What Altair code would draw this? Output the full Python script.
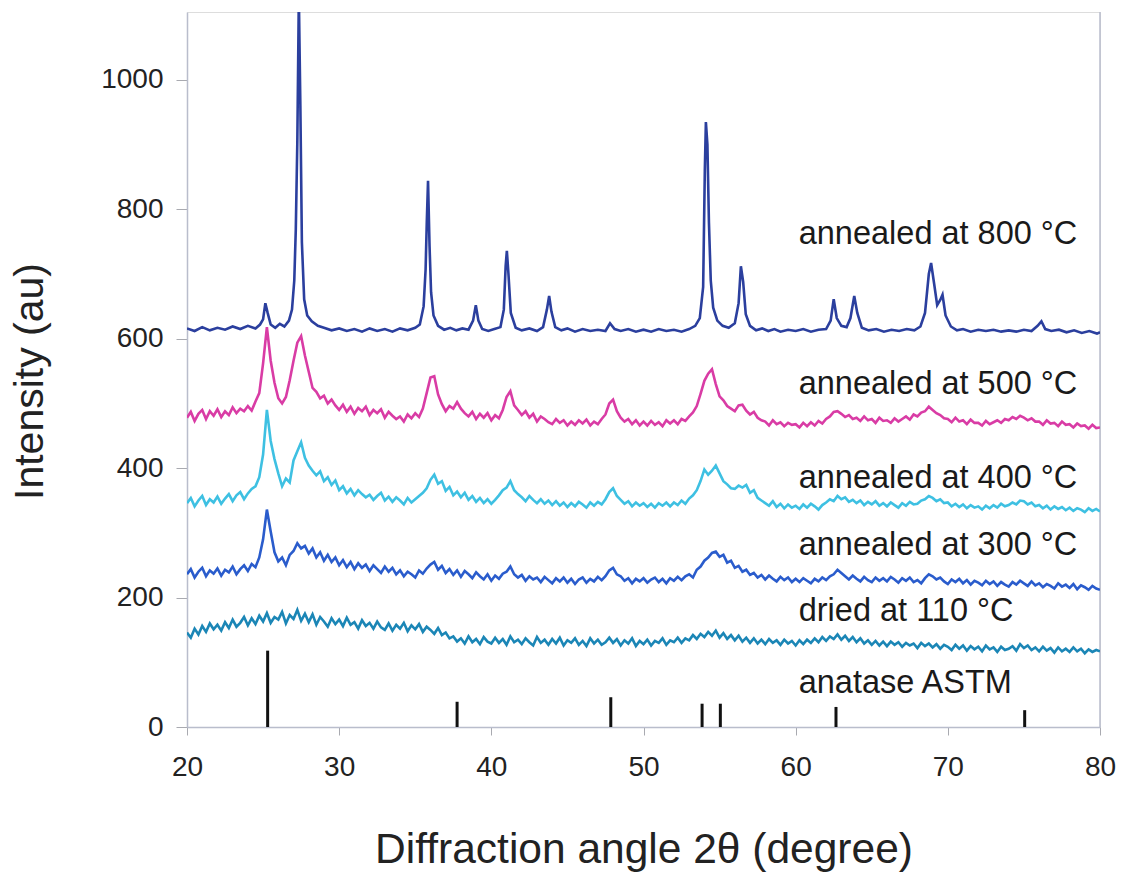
import altair as alt
import pandas as pd

# ---- sampling grid (2-theta, degrees) for the noisy patterns ----
X_GRID = [round(20 + 0.25 * i, 2) for i in range(241)]

# ---- dried at 110 C ----
Y110 = [
    146, 138, 152, 143, 156, 147, 160, 151,
    158, 149, 162, 153, 166, 155, 161, 170,
    157, 168, 159, 172, 163, 176, 161, 170,
    166, 178, 160, 173, 167, 181, 164, 175,
    162, 174, 158, 170, 163, 155, 168, 159,
    166, 156, 169, 158, 162, 152, 165, 156,
    161, 152, 163, 154, 150, 160, 149, 158,
    152, 161, 148, 157, 151, 159, 147, 155,
    150, 144, 153, 142, 146, 137, 140, 132,
    137, 129, 140, 131, 136, 128, 139, 132,
    129, 138, 130, 136, 127, 140, 131, 135,
    128, 137, 131, 126, 139, 130, 135, 127,
    136, 129, 138, 126, 134, 130, 137, 127,
    133, 125, 137, 129, 135, 127, 131, 138,
    130, 136, 126, 134, 129, 137, 125, 133,
    128, 135, 126, 133, 130, 137, 127, 134,
    131, 138, 130, 137, 134, 142, 136, 144,
    139, 147, 141, 149, 138, 145, 136, 142,
    134, 141, 132, 138, 130, 137, 129, 135,
    128, 136, 130, 134, 127, 135, 129, 133,
    126, 134, 128, 135, 130, 137, 131, 139,
    133, 140, 136, 143, 135, 141, 133, 139,
    131, 137, 129, 134, 127, 133, 126, 132,
    125, 132, 127, 131, 124, 130, 126, 129,
    122, 130, 125, 129, 123, 128, 121, 127,
    124, 119, 127, 121, 126, 118, 125, 120,
    124, 117, 126, 120, 123, 116, 124, 119,
    121, 125, 118, 128, 122, 126, 119, 123,
    117, 124, 118, 122, 115, 123, 117, 121,
    116, 123, 117, 121, 114, 120, 116, 119,
    117,
]

# ---- annealed at 300 C ----
Y300 = [
    236, 244, 231, 240, 246, 233, 242, 237,
    245, 234, 243, 239, 248, 236, 244, 250,
    241, 252, 247, 262, 290, 336, 302, 270,
    256, 262, 250, 266, 272, 284, 276, 280,
    268, 276, 262, 270, 257, 266, 255, 262,
    250, 258, 247, 255, 244, 253, 246, 251,
    241, 250, 244, 238, 248, 240, 246, 236,
    242, 233, 240, 236, 231, 242, 237, 245,
    251, 255, 243, 249, 238, 244, 235, 242,
    232, 241, 236, 230, 239, 233, 228, 236,
    226, 234, 229, 237, 240, 248, 236, 231,
    235, 226, 233, 228, 231, 224, 232, 227,
    222, 230, 225, 231, 223, 229, 221, 228,
    231, 223, 229, 225, 232, 227, 233, 242,
    246, 236, 233, 226, 230, 222, 229, 225,
    230, 223, 228, 231, 224, 229, 222, 230,
    226, 232, 227, 233, 236, 231, 243, 248,
    257, 262, 269, 271, 263, 266, 254, 257,
    246, 249, 240, 243, 235, 238, 231, 235,
    228, 234, 229, 225, 232, 227, 231, 224,
    229, 224, 230, 226, 222, 229, 225, 231,
    227, 233, 236, 243, 238, 233, 228, 234,
    229, 225, 232, 227, 224, 231, 226, 230,
    225, 232, 228, 223, 230, 226, 231, 224,
    227, 222, 230, 236, 233, 228, 231, 225,
    221, 228, 224, 229, 222, 227, 220, 226,
    223, 219, 226, 221, 225, 218, 224, 220,
    217, 224, 220, 226, 222, 218, 225, 219,
    222, 216, 221, 218, 214, 222, 217, 220,
    215, 221, 213, 219, 216, 212, 218, 214,
    212,
]

# ---- annealed at 400 C ----
Y400 = [
    346, 354, 341, 350, 357, 343, 352, 347,
    356, 345, 353, 360, 349, 358, 363, 352,
    361, 368, 372, 386, 421, 490, 442, 414,
    392, 372, 384, 378, 412, 426, 440, 416,
    404, 396, 389, 395, 380, 386, 374, 381,
    366, 372, 361, 368, 358, 366, 360, 355,
    359, 351, 357, 362, 350, 356, 348, 355,
    350, 344, 354, 347, 352, 357, 362, 369,
    382, 390, 376, 380, 365, 371, 358, 364,
    355, 362, 351, 357, 348, 354, 346, 352,
    345, 351, 358, 366, 370, 380, 366, 360,
    355, 349, 357, 351, 346, 352, 345, 350,
    343, 349, 342, 347, 340, 346, 341, 348,
    344, 339, 347, 342, 348, 344, 352, 363,
    369, 357, 351, 345, 349, 341, 347, 342,
    346, 340, 345, 339, 346, 342, 347, 341,
    347, 343, 350, 345, 353, 358, 366, 380,
    398, 390, 396, 404, 392, 380, 375, 369,
    368, 373, 370, 374, 362, 366, 354, 350,
    346, 342, 349, 340, 345, 338, 344, 339,
    342, 337, 344, 339, 345, 341, 336, 343,
    347, 352, 349, 357, 352, 355, 348, 351,
    346, 350, 343, 348, 344, 349, 342, 346,
    341, 347, 343, 339, 346, 342, 348, 344,
    345, 350, 352, 357, 354, 349, 352, 346,
    347, 341, 345, 340, 344, 338, 343, 339,
    341, 336, 342, 338, 343, 339, 345, 341,
    343, 347, 344, 350, 349, 344, 347, 341,
    343, 338, 342, 336, 341, 337, 340, 335,
    339, 334, 338, 336, 332, 338, 334, 337,
    333,
]

# ---- annealed at 500 C ----
Y500 = [
    478, 487, 473, 484, 490, 476, 488, 481,
    491, 479, 488, 482, 494, 485, 492, 488,
    496, 489, 503, 516, 562, 618, 566, 532,
    508, 500, 510, 536, 566, 594, 604, 574,
    549, 524, 518, 508, 512, 500, 506, 497,
    490, 498, 487, 495, 484, 493, 488, 495,
    482, 490, 485, 491, 478, 487, 481, 476,
    480, 472, 483, 477, 485, 479, 492, 516,
    540, 542, 514, 499, 488, 496, 492, 502,
    492, 485, 480, 487, 476, 484, 478, 485,
    474, 482, 477, 490, 510, 519, 497, 490,
    482, 488, 478, 484, 472, 480, 476, 471,
    468, 476, 470, 474, 466, 472, 467, 474,
    469, 475, 466, 472, 468, 476, 483, 500,
    506, 488, 478, 472, 476, 468, 474, 466,
    472, 466, 473, 467, 471, 465, 474, 469,
    474, 468, 476, 473, 480, 486, 496, 515,
    535, 546, 553, 530, 511, 505, 496, 492,
    488, 497, 498, 489, 483, 487, 478, 474,
    472, 466, 474, 468, 471, 465, 470, 467,
    468, 463, 470, 465, 471, 466, 473, 469,
    476, 480, 487, 488, 484, 479, 482, 476,
    478, 473, 480, 474, 476, 470, 478, 473,
    474, 470, 477, 472, 476, 480, 475, 483,
    480, 486, 488, 495, 490, 485, 482, 477,
    476, 471, 478, 472, 474, 468, 475, 470,
    470, 466, 473, 468, 471, 474, 470, 476,
    474, 479, 476, 481, 478, 474, 477, 472,
    472, 467, 474, 469, 470, 465, 472, 467,
    468, 463, 469, 465, 466, 461, 467, 462,
    463,
]

# ---- annealed at 800 C (sharp rutile peaks, own sampling) ----
X800 = [
    20.0, 20.5, 21.0, 21.5, 22.0, 22.5, 23.0, 23.5, 24.0, 24.5, 24.8, 25.0,
    25.15, 25.3, 25.5, 25.8, 26.1, 26.4, 26.7, 26.9, 27.05, 27.15, 27.25,
    27.35, 27.45, 27.55, 27.7, 27.9, 28.2, 28.6, 29.0, 29.5, 30.0, 30.5,
    31.0, 31.5, 32.0, 32.5, 33.0, 33.5, 34.0, 34.5, 35.0, 35.3, 35.55,
    35.68, 35.76, 35.84, 35.94, 36.04, 36.2, 36.5, 36.9, 37.3, 37.7, 38.1,
    38.5, 38.8, 38.98, 39.15, 39.4, 39.8, 40.2, 40.6, 40.82, 40.94, 41.02,
    41.12, 41.28, 41.6, 42.0, 42.5, 43.0, 43.4, 43.65, 43.8, 43.95, 44.2,
    44.6, 45.0, 45.5, 46.0, 46.5, 47.0, 47.5, 47.8, 48.1, 48.5, 49.0, 49.5,
    50.0, 50.5, 51.0, 51.5, 52.0, 52.5, 53.0, 53.4, 53.7, 53.92, 54.03,
    54.1, 54.2, 54.3, 54.42, 54.58, 54.85, 55.2, 55.6, 56.0, 56.25, 56.4,
    56.55, 56.72, 57.0, 57.4, 57.8, 58.2, 58.6, 59.0, 59.5, 60.0, 60.5,
    61.0, 61.5, 62.0, 62.3, 62.5, 62.7, 63.0, 63.35, 63.6, 63.85, 64.05,
    64.35, 64.8, 65.3, 65.8, 66.3, 66.8, 67.3, 67.8, 68.2, 68.5, 68.75,
    68.9, 69.1, 69.3, 69.5, 69.65, 69.85, 70.2, 70.6, 71.0, 71.5, 72.0,
    72.5, 73.0, 73.5, 74.0, 74.5, 75.0, 75.5, 75.9, 76.15, 76.4, 76.8,
    77.3, 77.8, 78.3, 78.8, 79.3, 79.8, 80.0,
]
Y800 = [
    616, 612, 618, 613, 617, 614, 619, 615, 620, 616, 622, 630,
    655, 640, 622, 617, 623, 619, 628, 645, 690, 769, 904,
    1130, 960, 749, 661, 636, 627, 620, 617, 613, 616, 612,
    615, 611, 616, 612, 615, 611, 616, 613, 617, 622, 650,
    707, 782, 844, 743, 672, 636, 620, 614, 617, 613, 616,
    614, 628, 652, 628, 615, 612, 615, 618, 645, 712, 736,
    702, 640, 617, 613, 616, 612, 618, 645, 666, 642, 618,
    613, 616, 611, 615, 612, 614, 612, 624, 615, 612, 615, 611,
    614, 611, 615, 612, 614, 611, 615, 620, 632, 680, 860,
    935, 900, 780, 690, 648, 628, 620, 617, 624, 655, 712,
    688, 638, 620, 613, 616, 612, 615, 611, 614, 612, 615,
    611, 614, 615, 628, 661, 632, 620, 618, 632, 666, 640,
    617, 613, 615, 611, 614, 612, 615, 613, 619, 640, 700,
    717, 685, 652, 660, 668, 636, 619, 613, 615, 611, 614,
    612, 614, 611, 613, 611, 614, 612, 620, 627, 615, 612,
    614, 610, 613, 609, 612, 608, 610,
]

# ---- anatase reference (ASTM) stick pattern ----
ASTM_X = [25.3, 37.75, 47.85, 53.85, 55.05, 62.65, 75.05]
ASTM_Y = [118, 39, 46, 36, 36, 31, 26]

# ---- curve labels ----
LABELS = ["annealed at 800 °C", "annealed at 500 °C", "annealed at 400 °C",
          "annealed at 300 °C", "dried at 110 °C", "anatase ASTM"]
LABEL_Y = [746, 514, 370, 266, 164, 53]
LABEL_X = 60.2

SERIES = ["110", "300", "400", "500", "800"]
COLORS = ["#1b86b6", "#2a5ccc", "#3ec0e2", "#d93ca5", "#2b3f9e"]

rows = []
for name, ys in [("110", Y110), ("300", Y300), ("400", Y400), ("500", Y500)]:
    for x, y in zip(X_GRID, ys):
        rows.append({"x": x, "y": y, "s": name})
for x, y in zip(X800, Y800):
    rows.append({"x": x, "y": y, "s": "800"})
df = pd.DataFrame(rows)

astm = pd.DataFrame({"x": ASTM_X, "y0": [0] * len(ASTM_X), "y": ASTM_Y})
labels = pd.DataFrame({"t": LABELS, "x": [LABEL_X] * len(LABELS), "y": LABEL_Y})

FONT = "Liberation Sans"
xscale = alt.Scale(domain=[20, 80], nice=False, zero=False)
yscale = alt.Scale(domain=[0, 1105], nice=False)

xaxis = alt.Axis(
    values=[20, 30, 40, 50, 60, 70, 80], grid=False, tickSize=8,
    labelFontSize=28, labelPadding=18, labelColor="#222222", format="d",
    labelFlush=False, labelOverlap=False,
    title="Diffraction angle 2θ (degree)", titleFontSize=42.5,
    titleFontWeight="normal", titleColor="#222222",
    titleBaseline="alphabetic", titleY=135,
    domainColor="#b9bdcc", tickColor="#a9aab0", domainWidth=1.5,
)
yaxis = alt.Axis(
    values=[0, 200, 400, 600, 800, 1000], grid=False, tickSize=11,
    labelFontSize=28, labelPadding=13, labelColor="#222222", format="d",
    labelFlush=False, labelOverlap=False,
    title="Intensity (au)", titleFontSize=41, titleFontWeight="normal",
    titleColor="#222222", titleBaseline="alphabetic", titleX=-145, titleY=369,
    domainColor="#b9bdcc", tickColor="#a9aab0", domainWidth=1.5,
)

X = alt.X("x:Q", scale=xscale, axis=xaxis)
Y = alt.Y("y:Q", scale=yscale, axis=yaxis)

lines = alt.Chart(df).mark_line(strokeWidth=2.6, clip=True).encode(
    x=X, y=Y,
    color=alt.Color("s:N", scale=alt.Scale(domain=SERIES, range=COLORS), legend=None),
    order=alt.Order("x:Q"),
)

sticks = alt.Chart(astm).mark_rule(color="#111111", strokeWidth=3).encode(
    x=X, y=alt.Y("y0:Q", scale=yscale, axis=yaxis), y2="y:Q",
)

texts = alt.Chart(labels).mark_text(
    align="left", baseline="alphabetic", fontSize=32.5, font=FONT, color="#1a1a1a",
).encode(x=X, y=Y, text="t:N")

border = alt.Chart(pd.DataFrame({"x": [80], "a": [0], "b": [1105]})).mark_rule(
    color="#b9bdcc", strokeWidth=1.5
).encode(x=X, y=alt.Y("a:Q", scale=yscale, axis=yaxis), y2="b:Q")

chart = alt.layer(border, lines, sticks, texts).properties(
    width=913, height=715,
    autosize="none",
    padding={"left": 187, "top": 12, "right": 22, "bottom": 149},
).configure_view(stroke=None).configure(font=FONT, background="white")

chart.save("out.html", embed_options={"renderer": "svg", "actions": False})
